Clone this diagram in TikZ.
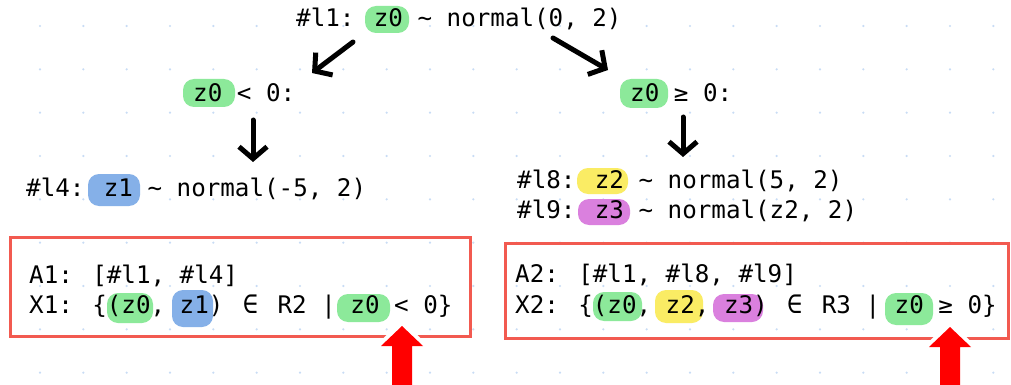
\documentclass[tikz,border=0pt]{standalone}
\usepackage{fontspec}
\usetikzlibrary{arrows.meta}
\newfontfamily\codefont{DejaVu Sans Mono}
\definecolor{hlgreen}{RGB}{140,233,154}
\definecolor{hlblue}{RGB}{133,176,232}
\definecolor{hlyellow}{RGB}{250,236,100}
\definecolor{hlpurple}{RGB}{218,128,222}
\definecolor{boxred}{RGB}{242,90,80}
\definecolor{dotc}{RGB}{200,220,245}
\newcommand{\wideelem}{\makebox[25pt]{\fontsize{26}{29}\selectfont ∈}}
\begin{document}
\begin{tikzpicture}[x=1pt,y=-1pt,
  code/.style={font=\codefont\fontsize{24.2}{29}\selectfont, inner sep=0pt, anchor=base west},
  hl/.style={fill=#1, rounded corners=11pt},
  flow/.style={line width=5pt, line cap=round, -{Straight Barb[length=12pt,width=28pt]}},
  frame/.style={draw=boxred, line width=3pt, inner sep=0pt},
  pointer/.style={fill=red, line join=round, preaction={draw=white, line width=8pt, line join=round}}]
\useasboundingbox (0,0) rectangle (1011,385);
\clip (0,0) rectangle (1011,385);
\fill[white] (0,0) rectangle (1011,385);
% grid dots
\foreach \i in {0,...,22}{
  \foreach \j in {0,...,8}{
    \fill[dotc] ({40+43.333*\i},{26+43.333*\j}) circle (1.2pt);
  }
}
% highlights
\fill[hl=hlgreen]  (365,6) rectangle (409,33);
\fill[hl=hlgreen]  (183,79) rectangle (235,107);
\fill[hl=hlgreen]  (620,79) rectangle (668,108);
\fill[hl=hlblue]   (88,174) rectangle (140,206);
\fill[hl=hlyellow] (577,168) rectangle (628,194);
\fill[hl=hlpurple] (578,199) rectangle (630,225);
\fill[hl=hlgreen]  (107,293) rectangle (153,323);
\fill[hl=hlblue]   (172,290) rectangle (213,327);
\fill[hl=hlgreen]  (337,294) rectangle (390,322);
\fill[hl=hlgreen]  (593,292) rectangle (642,321);
\fill[hl=hlyellow] (655,290) rectangle (703,323);
\fill[hl=hlpurple] (713,294) rectangle (763,322);
\fill[hl=hlgreen]  (885,293) rectangle (933,325);
% text lines
\node[code] (l1) at (296,27) {\#l1: z0 \char"7E{} normal(0, 2)};
\node[code] (cl) at (193,102) {z0 < 0:};
\node[code] (cr) at (630,102) {z0 ≥ 0:};
\node[code] (l4) at (26,196) {\#l4: z1 \char"7E{} normal(-5, 2)};
\node[code] (l8) at (517,188) {\#l8: z2 \char"7E{} normal(5, 2)};
\node[code] (l9) at (517,218) {\#l9: z3 \char"7E{} normal(z2, 2)};
% boxes
\node[frame, minimum width=460pt, minimum height=99pt] (box1) at (240,286.5) {};
\node[frame, minimum width=503pt, minimum height=95pt] (box2) at (757,290.5) {};
\node[code] (a1) at (29,283) {A1: [\#l1, \#l4]};
\node[code] (x1) at (29,313) {X1: \{(z0, z1) \wideelem{} R2 | z0 < 0\}};
\node[code] (a2) at (515,282) {A2: [\#l1, \#l8, \#l9]};
\node[code] (x2) at (515,313) {X2: \{(z0, z2, z3) \wideelem{} R3 | z0 ≥ 0\}};
% flow arrows
\coordinate (tls) at (353,42);  \coordinate (tle) at (312,73);
\coordinate (trs) at (553,38);  \coordinate (tre) at (608,70);
\coordinate (dls) at (253,120); \coordinate (dle) at (253,162);
\coordinate (drs) at (683,117); \coordinate (dre) at (683,157);
\draw[flow] (tls) -- (tle);
\draw[flow] (trs) -- (tre);
\draw[flow] (dls) -- (dle);
\draw[flow] (drs) -- (dre);
% red pointers
\coordinate (p1) at (402,326);
\coordinate (p2) at (950,327);
\path[pointer] (p1) -- ++(21,20) -- ++(-11,0) -- ++(0,60) -- ++(-20,0) -- ++(0,-60) -- ++(-11,0) -- cycle;
\path[pointer] (p2) -- ++(21,20) -- ++(-11,0) -- ++(0,60) -- ++(-20,0) -- ++(0,-60) -- ++(-11,0) -- cycle;
\end{tikzpicture}
\end{document}
